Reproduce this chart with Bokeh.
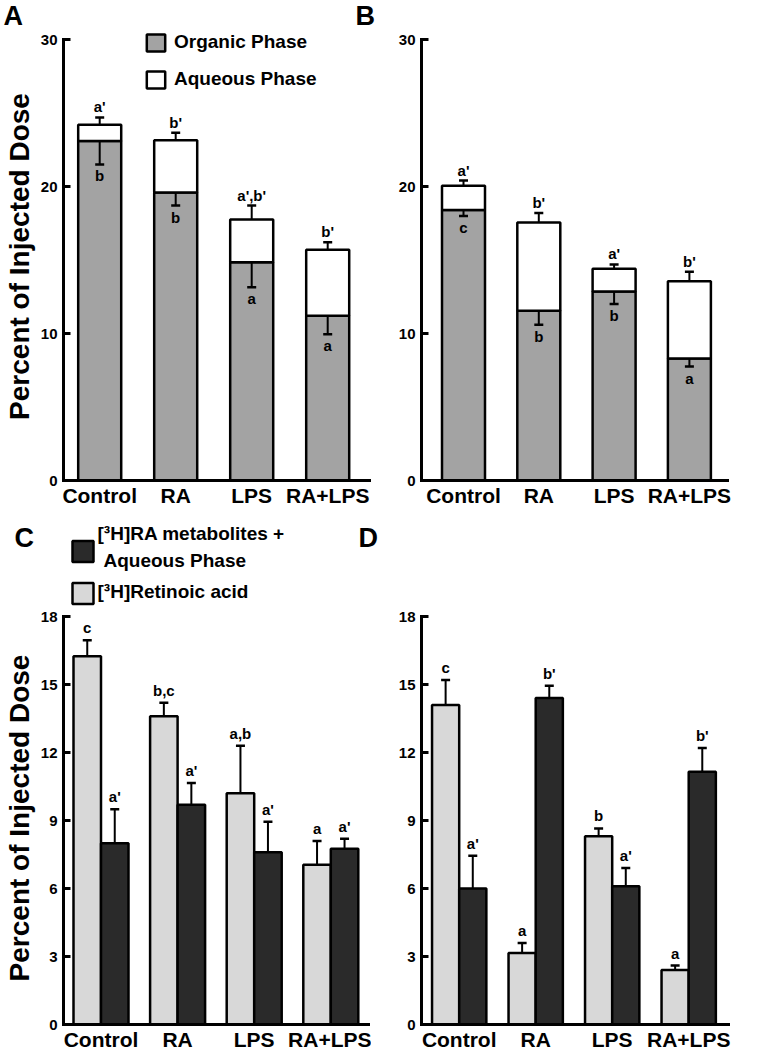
from bokeh.plotting import figure
from bokeh.models import (ColumnDataSource, Range1d, FixedTicker, Whisker, TeeHead,
                          Legend, LegendItem)
from bokeh.layouts import row, column
from bokeh.embed import file_html
from bokeh.resources import INLINE
from bokeh.core.properties import value

# ---------------- data ----------------
categories = ["Control", "RA", "LPS", "RA+LPS"]

# Panel A
a_organic = [23.1, 19.6, 14.85, 11.2]
a_organic_err = [1.6, 0.9, 1.7, 1.25]
a_aqueous = [1.1, 3.55, 2.9, 4.5]
a_total_err = [0.5, 0.5, 0.95, 0.5]
a_organic_sig = ["b", "b", "a", "a"]
a_total_sig = ["a'", "b'", "a',b'", "b'"]

# Panel B
b_organic = [18.4, 11.55, 12.85, 8.3]
b_organic_err = [0.4, 0.95, 0.85, 0.55]
b_aqueous = [1.65, 6.0, 1.55, 5.25]
b_total_err = [0.35, 0.65, 0.3, 0.65]
b_organic_sig = ["c", "b", "b", "a"]
b_total_sig = ["a'", "b'", "a'", "b'"]

# Panel C
c_retinoic = [16.25, 13.6, 10.2, 7.05]
c_retinoic_err = [0.7, 0.6, 2.1, 1.05]
c_metab = [8.0, 9.7, 7.6, 7.75]
c_metab_err = [1.5, 0.95, 1.35, 0.45]
c_retinoic_sig = ["c", "b,c", "a,b", "a"]
c_metab_sig = ["a'", "a'", "a'", "a'"]

# Panel D
d_retinoic = [14.1, 3.15, 8.3, 2.4]
d_retinoic_err = [1.1, 0.45, 0.35, 0.2]
d_metab = [6.0, 14.4, 6.1, 11.15]
d_metab_err = [1.45, 0.55, 0.8, 1.05]
d_retinoic_sig = ["c", "a", "b", "a"]
d_metab_sig = ["a'", "b'", "a'", "b'"]

ticks_ab = [0, 10, 20, 30]
ticks_cd = [0, 3, 6, 9, 12, 15, 18]
legend_ab = ["Organic Phase", "Aqueous Phase"]
legend_cd = [["[³H]RA metabolites +", "Aqueous Phase"], ["[³H]Retinoic acid"]]
y_label = "Percent of Injected Dose"
panel_letters = ["A", "B", "C", "D"]

# ---------------- style ----------------
FONT = "Liberation Sans"
ORGANIC = "#a3a3a3"
LIGHT = "#d8d8d8"
DARK = "#2a2a2a"
PAGE_W = 784


def make_fig(g, ticks, with_label):
    fw = g["frame_r"] - g["frame_l"]
    fh = g["frame_b"] - g["frame_t"]
    scale = (g["frame_b"] - g["ymax_px"]) / ticks[-1]
    p = figure(frame_width=fw, frame_height=fh,
               x_range=Range1d((g["frame_l"] - g["c0"]) / g["sp"], (g["frame_r"] - g["c0"]) / g["sp"]),
               y_range=Range1d(0, fh / scale),
               min_border_left=g["frame_l"] - g["fig_l"], min_border_right=g["fig_r"] - g["frame_r"],
               min_border_top=g["frame_t"] - g["fig_t"], min_border_bottom=g["fig_b"] - g["frame_b"],
               output_backend="svg", toolbar_location=None, title=None,
               outline_line_color=None)
    p.grid.visible = False
    ya = p.yaxis[0]
    ya.ticker = FixedTicker(ticks=ticks)
    ya.bounds = (0, ticks[-1])
    ya.axis_line_width = 3
    ya.axis_line_cap = "square"
    ya.major_tick_in = 7
    ya.major_tick_out = 0
    ya.minor_tick_in = 0
    ya.minor_tick_out = 0
    ya.major_tick_line_width = 3
    ya.minor_tick_line_color = None
    ya.major_label_text_font = FONT
    ya.major_label_text_font_size = "15px"
    ya.major_label_text_font_style = "bold"
    ya.major_label_text_color = "black"
    ya.major_label_standoff = 6
    if with_label:
        ya.axis_label = y_label
        ya.axis_label_text_font = FONT
        ya.axis_label_text_font_size = "28px"
        ya.axis_label_text_font_style = "bold"
        ya.axis_label_text_color = "black"
        ya.axis_label_standoff = 3
    xa = p.xaxis[0]
    xa.ticker = FixedTicker(ticks=list(range(len(categories))))
    xa.major_label_overrides = {i: c for i, c in enumerate(categories)}
    xa.major_tick_line_color = None
    xa.minor_tick_line_color = None
    xa.major_tick_in = 0
    xa.major_tick_out = 0
    xa.minor_tick_in = 0
    xa.minor_tick_out = 0
    xa.axis_line_width = 3
    xa.axis_line_cap = "square"
    xa.major_label_text_font = FONT
    xa.major_label_text_font_size = "21px"
    xa.major_label_text_font_style = "bold"
    xa.major_label_text_color = "black"
    xa.major_label_standoff = 3
    return p


def header(top, bottom):
    # blank strip (no axes) whose data units are page pixels
    h = figure(width=PAGE_W, height=bottom - top, x_range=Range1d(0, PAGE_W),
               y_range=Range1d(bottom, top), x_axis_location=None, y_axis_location=None,
               min_border=0, output_backend="svg", toolbar_location=None, title=None,
               outline_line_color=None)
    h.grid.visible = False
    return h


def letters(h, xs, ys, texts):
    h.text(x=xs, y=ys, text=texts, text_align="left", text_baseline="middle",
           text_font=value(FONT), text_font_size="27px", text_font_style="bold",
           text_color="black")


def stacked(p, organic, organic_err, aqueous, total_err, org_sig, tot_sig, width):
    total = [o + a for o, a in zip(organic, aqueous)]
    src = ColumnDataSource(dict(
        x=list(range(len(categories))), organic=organic, total=total,
        org_low=[o - e for o, e in zip(organic, organic_err)],
        tot_high=[t + e for t, e in zip(total, total_err)],
        org_sig=org_sig, tot_sig=tot_sig))
    r_org = p.vbar(x="x", width=width, bottom=0, top="organic", fill_color=ORGANIC,
                   line_color="black", line_width=2.5, source=src)
    r_aq = p.vbar(x="x", width=width, bottom="organic", top="total", fill_color="white",
                  line_color="black", line_width=2.5, source=src)
    p.add_layout(Whisker(base="x", lower="org_low", upper="organic", source=src, level="overlay",
                         line_width=2, upper_head=None,
                         lower_head=TeeHead(size=9, line_width=2.5)))
    p.add_layout(Whisker(base="x", lower="total", upper="tot_high", source=src, level="overlay",
                         line_width=2, lower_head=None,
                         upper_head=TeeHead(size=9, line_width=2.5)))
    p.text(x="x", y="tot_high", text="tot_sig", source=src, text_align="center",
           text_baseline="bottom", y_offset=-2, text_font=value(FONT),
           text_font_size="15px", text_font_style="bold", text_color="black")
    p.text(x="x", y="org_low", text="org_sig", source=src, text_align="center",
           text_baseline="top", y_offset=3, text_font=value(FONT),
           text_font_size="15px", text_font_style="bold", text_color="black")
    return r_org, r_aq


def grouped(p, ret, ret_err, met, met_err, ret_sig, met_sig, width):
    idx = list(range(len(categories)))
    src = ColumnDataSource(dict(
        xr=[i - width / 2 for i in idx], xm=[i + width / 2 for i in idx],
        ret=ret, met=met,
        ret_hi=[v + e for v, e in zip(ret, ret_err)],
        met_hi=[v + e for v, e in zip(met, met_err)],
        ret_sig=ret_sig, met_sig=met_sig))
    p.vbar(x="xr", width=width, bottom=0, top="ret", fill_color=LIGHT,
           line_color="black", line_width=2.5, source=src)
    p.vbar(x="xm", width=width, bottom=0, top="met", fill_color=DARK,
           line_color="black", line_width=2.5, source=src)
    for base, lo, hi, sig in (("xr", "ret", "ret_hi", "ret_sig"), ("xm", "met", "met_hi", "met_sig")):
        p.add_layout(Whisker(base=base, lower=lo, upper=hi, source=src, level="overlay",
                             line_width=2, lower_head=None,
                             upper_head=TeeHead(size=9, line_width=2.5)))
        p.text(x=base, y=hi, text=sig, source=src, text_align="center",
               text_baseline="bottom", y_offset=-4, text_font=value(FONT),
               text_font_size="15px", text_font_style="bold", text_color="black")


# ---------------- geometry (page pixels) ----------------
gA = dict(fig_l=0, fig_r=367, frame_l=59, frame_r=365, fig_t=30, frame_t=32, frame_b=480, fig_b=508,
          ymax_px=39, c0=95.2, sp=76.0)
gB = dict(fig_l=367, fig_r=733, frame_l=417, frame_r=723, fig_t=30, frame_t=32, frame_b=480, fig_b=508,
          ymax_px=39, c0=459.0, sp=75.3)
gC = dict(fig_l=0, fig_r=368, frame_l=60, frame_r=365, fig_t=606, frame_t=610, frame_b=1023, fig_b=1050,
          ymax_px=615, c0=97.5, sp=76.6)
gD = dict(fig_l=368, fig_r=735, frame_l=418, frame_r=725, fig_t=606, frame_t=610, frame_b=1023, fig_b=1050,
          ymax_px=615, c0=455.7, sp=76.5)

# top strip with panel letters A and B
h1 = header(0, 30)
letters(h1, [3, 355], [15, 15], panel_letters[:2])

# Panel A
pA = make_fig(gA, ticks_ab, True)
r_org, r_aq = stacked(pA, a_organic, a_organic_err, a_aqueous, a_total_err,
                      a_organic_sig, a_total_sig, 0.566)
legend = Legend(items=[LegendItem(label=legend_ab[0], renderers=[r_org]),
                       LegendItem(label=legend_ab[1], renderers=[r_aq])],
                location=(140 - gA["frame_l"], (gA["frame_b"] - gA["frame_t"]) - 58),
                glyph_width=23, glyph_height=21, spacing=15, padding=0, margin=0,
                label_standoff=7, border_line_color=None, background_fill_alpha=0,
                label_text_font=FONT, label_text_font_size="19px", label_text_font_style="bold",
                label_text_color="black")
pA.add_layout(legend)

# Panel B
pB = make_fig(gB, ticks_ab, False)
stacked(pB, b_organic, b_organic_err, b_aqueous, b_total_err, b_organic_sig, b_total_sig, 0.571)

# middle strip: letters C, D and the legend of panel C
h2 = header(508, 606)
letters(h2, [14, 358], [536, 536], panel_letters[2:])
h2.scatter(x=[82.5, 82.5], y=[550, 592], marker="square", size=21,
           fill_color=[DARK, LIGHT], line_color="black", line_width=2.5)
h2.text(x=[97, 103, 97], y=[532, 559, 590],
        text=[legend_cd[0][0], legend_cd[0][1], legend_cd[1][0]],
        text_align="left", text_baseline="middle", text_font=value(FONT),
        text_font_size="19px", text_font_style="bold", text_color="black")

# Panel C
pC = make_fig(gC, ticks_cd, True)
grouped(pC, c_retinoic, c_retinoic_err, c_metab, c_metab_err, c_retinoic_sig, c_metab_sig, 0.359)

# Panel D
pD = make_fig(gD, ticks_cd, False)
grouped(pD, d_retinoic, d_retinoic_err, d_metab, d_metab_err, d_retinoic_sig, d_metab_sig, 0.355)

layout = column(h1, row(pA, pB), h2, row(pC, pD))
open("out.html", "w").write(file_html(layout, INLINE))
